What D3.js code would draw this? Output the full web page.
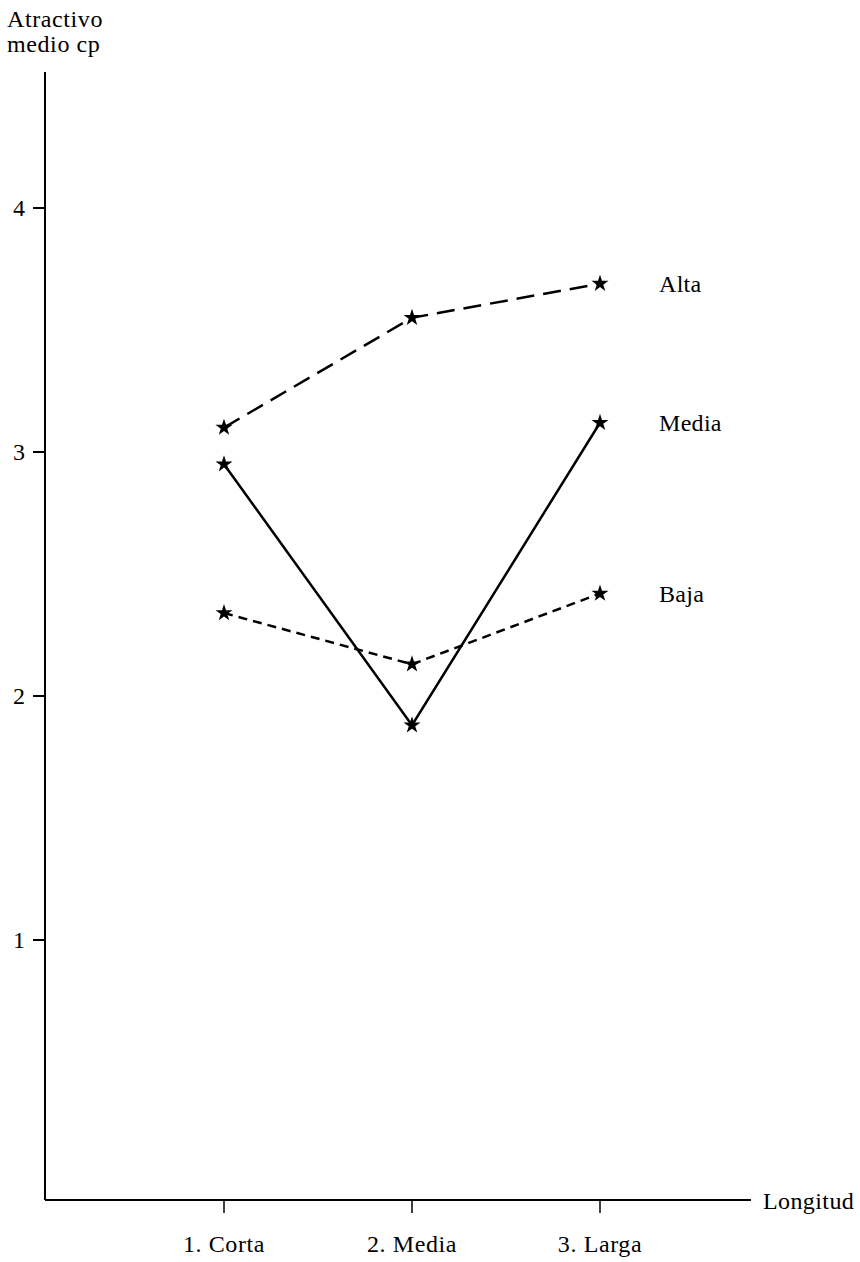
<!DOCTYPE html>
<html><head><meta charset="utf-8">
<script src="https://cdn.jsdelivr.net/npm/d3@7"></script>
<style>body{margin:0;background:#fff}</style>
</head><body>
<svg id="c" width="860" height="1262"></svg>
<script>
const categories = ["1. Corta", "2. Media", "3. Larga"];
const alta = [3.10, 3.55, 3.69];
const media = [2.95, 1.88, 3.12];
const baja = [2.34, 2.13, 2.42];
const seriesNames = ["Alta", "Media", "Baja"];
const yTicks = [1, 2, 3, 4];

const svg = d3.select("#c");
const font = "Liberation Serif, Times New Roman, serif";
const fs = 24;
const x = d3.scalePoint().domain(categories).range([224, 600]);
const y = d3.scaleLinear().domain([0, 4]).range([1184, 208]);
const x0 = 45;
const yBottom = 1200;

svg.append("line").attr("x1", x0).attr("x2", x0).attr("y1", 72).attr("y2", yBottom)
  .attr("stroke", "#000").attr("stroke-width", 2);
svg.append("line").attr("x1", x0).attr("x2", 751).attr("y1", yBottom).attr("y2", yBottom)
  .attr("stroke", "#000").attr("stroke-width", 2);

yTicks.forEach(t => {
  svg.append("line").attr("x1", x0 - 12).attr("x2", x0).attr("y1", y(t)).attr("y2", y(t))
    .attr("stroke", "#000").attr("stroke-width", 2);
  svg.append("text").attr("x", 13).attr("y", y(t) + 8).text(t)
    .attr("font-family", font).attr("font-size", fs);
});
categories.forEach(c => {
  svg.append("line").attr("x1", x(c)).attr("x2", x(c)).attr("y1", yBottom).attr("y2", yBottom + 13)
    .attr("stroke", "#000").attr("stroke-width", 1.5);
  svg.append("text").attr("x", x(c)).attr("y", 1252).text(c).attr("text-anchor", "middle")
    .attr("font-family", font).attr("font-size", fs).attr("letter-spacing", 0.6);
});
svg.append("text").attr("x", 763).attr("y", 1209).text("Longitud")
  .attr("font-family", font).attr("font-size", fs).attr("letter-spacing", 0.4);
svg.append("text").attr("x", 7).attr("y", 27).text("Atractivo")
  .attr("font-family", font).attr("font-size", fs).attr("letter-spacing", 0.6);
svg.append("text").attr("x", 7).attr("y", 52).text("medio cp")
  .attr("font-family", font).attr("font-size", fs).attr("letter-spacing", 0.6);

const series = [
  {name: seriesNames[0], vals: alta, dash: "18,9"},
  {name: seriesNames[1], vals: media, dash: null},
  {name: seriesNames[2], vals: baja, dash: "9,6"}
];
const line = d3.line().x((d, i) => x(categories[i])).y(d => y(d));
const star = d3.symbol().type(d3.symbolStar).size(90);
series.forEach(s => {
  const p = svg.append("path").attr("d", line(s.vals)).attr("fill", "none")
    .attr("stroke", "#000").attr("stroke-width", 2.5);
  if (s.dash) p.attr("stroke-dasharray", s.dash);
  s.vals.forEach((v, i) => {
    svg.append("path").attr("d", star()).attr("transform", `translate(${x(categories[i])},${y(v)})`)
      .attr("fill", "#000");
  });
  svg.append("text").attr("x", 659).attr("y", y(s.vals[2]) + 8).text(s.name)
    .attr("font-family", font).attr("font-size", fs).attr("letter-spacing", 0.3);
});
</script>
</body></html>
